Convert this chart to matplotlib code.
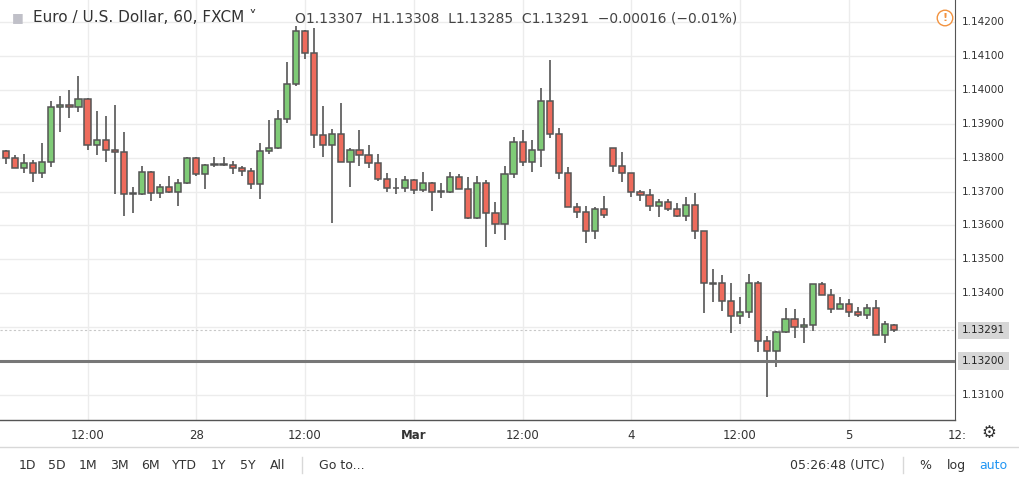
import matplotlib
matplotlib.use("Agg")
import matplotlib.pyplot as plt
from matplotlib.patches import Rectangle
import numpy as np

opens = [1.13819,1.13799,1.13769,1.13784,1.13755,1.13787,1.13949,1.13955,1.13949,1.13973,
 1.13837,1.13852,1.13822,1.13816,1.13693,1.13693,1.13758,1.13696,1.13713,1.13699,
 1.13725,1.13799,1.13752,1.13778,1.13781,1.13778,1.13769,1.13760,1.13722,1.13819,
 1.13828,1.13914,1.14017,1.14173,1.14109,1.13867,1.13837,1.13870,1.13787,1.13822,
 1.13808,1.13784,1.13737,1.13710,1.13710,1.13734,1.13704,1.13725,1.13699,1.13699,
 1.13743,1.13707,1.13622,1.13725,1.13637,1.13604,1.13752,1.13846,1.13787,1.13822,
 1.13967,1.13870,1.13755,1.13654,1.13640,1.13583,1.13648,1.13828,1.13775,1.13755,
 1.13699,1.13690,1.13657,1.13669,1.13648,1.13628,1.13660,1.13583,1.13430,1.13430,
 1.13377,1.13333,1.13345,1.13430,1.13259,1.13229,1.13286,1.13324,1.13300,1.13306,
 1.13427,1.13395,1.13353,1.13368,1.13345,1.13336,1.13356,1.13277,1.13307]
highs = [1.13822,1.13808,1.13811,1.13793,1.13843,1.13967,1.13982,1.13999,1.14041,1.13976,
 1.13937,1.13923,1.13955,1.13876,1.13713,1.13775,1.13760,1.13722,1.13746,1.13737,
 1.13802,1.13802,1.13781,1.13802,1.13802,1.13790,1.13775,1.13769,1.13843,1.13911,
 1.13940,1.14082,1.14188,1.14176,1.14182,1.13952,1.13884,1.13961,1.13828,1.13881,
 1.13837,1.13811,1.13755,1.13740,1.13746,1.13737,1.13758,1.13728,1.13725,1.13758,
 1.13752,1.13743,1.13746,1.13734,1.13669,1.13775,1.13861,1.13881,1.13852,1.14005,
 1.14088,1.13887,1.13772,1.13666,1.13657,1.13654,1.13687,1.13828,1.13816,1.13755,
 1.13704,1.13707,1.13678,1.13678,1.13666,1.13684,1.13696,1.13583,1.13471,1.13454,
 1.13430,1.13389,1.13457,1.13436,1.13274,1.13288,1.13356,1.13353,1.13327,1.13427,
 1.13433,1.13412,1.13389,1.13383,1.13359,1.13368,1.13380,1.13318,1.13308]
lows = [1.13781,1.13769,1.13755,1.13728,1.13740,1.13772,1.13876,1.13917,1.13934,1.13822,
 1.13808,1.13787,1.13693,1.13628,1.13637,1.13690,1.13672,1.13681,1.13696,1.13657,
 1.13722,1.13746,1.13707,1.13772,1.13775,1.13752,1.13746,1.13707,1.13678,1.13811,
 1.13825,1.13902,1.14011,1.14091,1.13828,1.13802,1.13607,1.13787,1.13713,1.13775,
 1.13769,1.13731,1.13699,1.13693,1.13699,1.13693,1.13699,1.13642,1.13681,1.13696,
 1.13707,1.13619,1.13620,1.13536,1.13575,1.13557,1.13740,1.13775,1.13758,1.13772,
 1.13858,1.13737,1.13654,1.13622,1.13548,1.13560,1.13622,1.13758,1.13728,1.13684,
 1.13672,1.13642,1.13625,1.13642,1.13625,1.13613,1.13560,1.13342,1.13374,1.13347,
 1.13283,1.13309,1.13327,1.13226,1.13094,1.13182,1.13283,1.13268,1.13253,1.13288,
 1.13395,1.13342,1.13353,1.13330,1.13330,1.13324,1.13277,1.13253,1.13285]
closes = [1.13799,1.13769,1.13784,1.13755,1.13787,1.13949,1.13955,1.13949,1.13973,1.13837,
 1.13852,1.13822,1.13816,1.13693,1.13696,1.13758,1.13696,1.13713,1.13699,1.13725,
 1.13799,1.13752,1.13778,1.13781,1.13778,1.13769,1.13760,1.13722,1.13819,1.13828,
 1.13914,1.14017,1.14173,1.14109,1.13867,1.13837,1.13870,1.13787,1.13822,1.13808,
 1.13784,1.13737,1.13710,1.13710,1.13734,1.13704,1.13725,1.13699,1.13699,1.13743,
 1.13707,1.13622,1.13725,1.13637,1.13604,1.13752,1.13846,1.13787,1.13822,1.13967,
 1.13870,1.13755,1.13654,1.13640,1.13583,1.13648,1.13631,1.13775,1.13755,1.13699,
 1.13690,1.13657,1.13669,1.13648,1.13628,1.13660,1.13583,1.13430,1.13428,1.13377,
 1.13333,1.13345,1.13430,1.13259,1.13229,1.13286,1.13324,1.13300,1.13306,1.13427,
 1.13395,1.13353,1.13368,1.13345,1.13336,1.13356,1.13277,1.13309,1.13291]

xtick_pos = [9, 21, 33, 45, 57, 69, 81, 93, 105]
xtick_labels = ["12:00", "28", "12:00", "Mar", "12:00", "4", "12:00", "5", "12:"]
price_ticks = [1.142, 1.141, 1.140, 1.139, 1.138, 1.137, 1.136, 1.135, 1.134, 1.133, 1.132, 1.131]
level_line = 1.132
last_price = 1.13291

W, H = 1019, 486
fig = plt.figure(figsize=(W/100, H/100), dpi=100)
fig.patch.set_facecolor("white")
ax = fig.add_axes([0, (H-420)/H, 955/W, 420/H])
ax.set_facecolor("white")

GREEN = "#7fcb77"; RED = "#ee6b5c"; EDGE = "#555555"
n = len(opens)
x = np.arange(n)
for i in range(n):
    o, h, l, c = opens[i], highs[i], lows[i], closes[i]
    ax.vlines(x[i], l, h, color=EDGE, lw=1.2, zorder=2)
    col = GREEN if c >= o else RED
    b = min(o, c); ht = max(abs(c - o), 0.000012)
    ax.add_patch(Rectangle((x[i]-0.34, b), 0.68, ht, facecolor=col, edgecolor=EDGE, lw=1.1, zorder=3))

ax.set_xlim(-0.66, 104.7)
ymax = 1.142 + 22/33909; ymin = 1.142 - 398/33909
ax.set_ylim(ymin, ymax)
for p in price_ticks:
    ax.axhline(p, color="#ececec", lw=1, zorder=0)
for t in xtick_pos:
    ax.axvline(t, color="#ececec", lw=1, zorder=0)
ax.axhline(level_line, color="#777777", lw=2.2, zorder=4)
ax.axhline(last_price, color="#c8c8c8", lw=0.8, ls=(0, (2, 2)), zorder=1)
ax.set_xticks([]); ax.set_yticks([])
for s in ["top", "left", "bottom"]:
    ax.spines[s].set_visible(False)
ax.spines["right"].set_color("#555555")

for t, lab in zip(xtick_pos, xtick_labels):
    fig.text((6 + 9.06*t)/W, 1 - 435/H, lab, ha="center", va="center", fontsize=8.5,
             color="#333333", fontweight="bold" if lab == "Mar" else "normal")
fig.add_artist(plt.Line2D([0, 955/W], [1-420/H, 1-420/H], color="#555555", lw=1))

def py(p):
    return 1 - (22 + (1.142 - p)*33909)/H
for p in price_ticks:
    if abs(p - level_line) < 1e-9 or abs(p - last_price) < 0.0003:
        continue
    fig.text(962/W, py(p), f"{p:.5f}", ha="left", va="center", fontsize=7.5, color="#333333")
for p in [last_price, level_line]:
    fig.text(962/W, py(p), f"{p:.5f}", ha="left", va="center", fontsize=7.5, color="#222222",
             bbox=dict(boxstyle="square,pad=0.35", fc="#d6d6d6", ec="none"))

fig.text(12/W, 1-18/H, "\u25A0", fontsize=9, color="#c0c0c8", va="center")
fig.text(33/W, 1-18/H, "Euro / U.S. Dollar, 60, FXCM \u02C5", fontsize=11, color="#333333", va="center")
fig.text(295/W, 1-18/H, "O1.13307  H1.13308  L1.13285  C1.13291  \u22120.00016 (\u22120.01%)",
         fontsize=10, color="#444444", va="center")
fig.text(945/W, 1-18/H, "!", fontsize=8, color="#f29340", ha="center", va="center", fontweight="bold",
         bbox=dict(boxstyle="circle,pad=0.25", fc="white", ec="#f29340", lw=1))
fig.text(989/W, 1-433/H, "\u2699", fontsize=12, color="#333333", ha="center", va="center")

fig.add_artist(plt.Line2D([0, 1], [1-447/H, 1-447/H], color="#d8d8d8", lw=1))
for lab, xp in [("1D", 27), ("5D", 57), ("1M", 88), ("3M", 119), ("6M", 150), ("YTD", 184),
                ("1Y", 218), ("5Y", 248), ("All", 278)]:
    fig.text(xp/W, 1-465/H, lab, fontsize=9, color="#333333", ha="center", va="center")
fig.add_artist(plt.Line2D([302/W, 302/W], [1-457/H, 1-473/H], color="#d8d8d8", lw=1))
fig.text(319/W, 1-465/H, "Go to...", fontsize=9, color="#333333", va="center")
fig.text(790/W, 1-465/H, "05:26:48 (UTC)", fontsize=9, color="#333333", va="center")
fig.add_artist(plt.Line2D([903/W, 903/W], [1-457/H, 1-473/H], color="#d8d8d8", lw=1))
fig.text(925/W, 1-465/H, "%", fontsize=9, color="#333333", ha="center", va="center")
fig.text(956/W, 1-465/H, "log", fontsize=9, color="#333333", ha="center", va="center")
fig.text(993/W, 1-465/H, "auto", fontsize=9, color="#2196f3", ha="center", va="center")

fig.savefig("out.png", dpi=100)
